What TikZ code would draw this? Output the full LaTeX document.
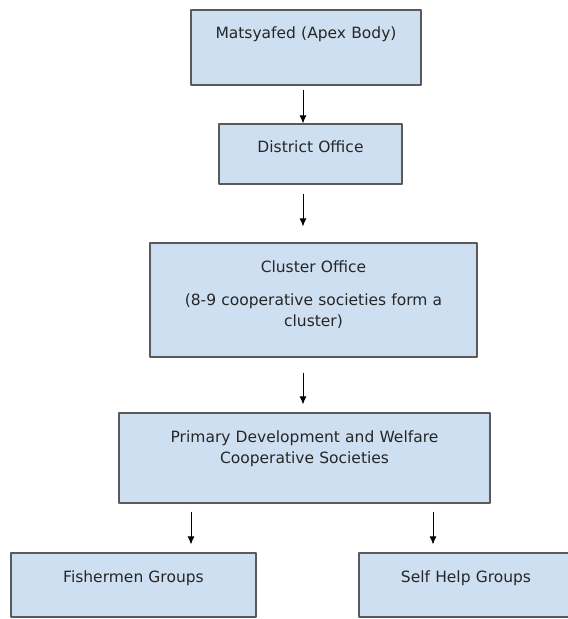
\documentclass[tikz,border=0pt]{standalone}
\usepackage{fontspec}
\setmainfont{DejaVu Sans}
\usetikzlibrary{arrows.meta}
\definecolor{boxfill}{HTML}{CEDFF2}
\definecolor{boxline}{HTML}{5A5A5A}
\definecolor{boxtext}{HTML}{262626}
\begin{document}
\begin{tikzpicture}[>={Latex[length=8bp,width=7bp]},line join=bevel,
  orgbox/.style={draw=boxline,fill=boxfill,line width=1.2bp,inner sep=0pt,
    align=center,text=boxtext,font=\fontsize{15.5bp}{21bp}\selectfont},
  link/.style={black,line width=0.9bp,->}]
%%
\useasboundingbox (0bp,0bp) rectangle (568bp,619bp);
\clip (0bp,0bp) rectangle (568bp,619bp);
\fill [white] (0bp,0bp) rectangle (568bp,619bp);
\coordinate (axis_mid) at (303bp,0bp);
\coordinate (axis_left) at (191bp,0bp);
\coordinate (axis_right) at (433bp,0bp);
\node (node_0) at (306.0bp,571.5bp) [orgbox,text width=230bp,text height=29bp,text depth=46bp] {Matsyafed (Apex Body)};
  \node (node_1) at (310.5bp,465.0bp) [orgbox,text width=183bp,text height=29bp,text depth=31bp] {District Office};
  \node (node_2) at (313.5bp,319.0bp) [orgbox,text width=327bp,text height=30bp,text depth=84bp] {Cluster Office\\[12bp] (8-9 cooperative societies form a\\ cluster)};
  \node (node_3) at (304.5bp,161.0bp) [orgbox,text width=371bp,text height=30bp,text depth=60bp] {Primary Development and Welfare\\ Cooperative Societies};
  \node (node_4) at (133.5bp,34.0bp) [orgbox,text width=245bp,text height=29bp,text depth=35bp] {Fishermen Groups};
  \node (node_5) at (466.0bp,34.0bp) [orgbox,text width=214bp,text height=29bp,text depth=35bp] {Self Help Groups};
  \draw [link,shorten <=4bp] (node_0.south -| axis_mid) -- (node_1.north -| axis_mid);
  \draw [link,shorten <=9bp,shorten >=16bp] (node_1.south -| axis_mid) -- (node_2.north -| axis_mid);
  \draw [link,shorten <=15bp,shorten >=8bp] (node_2.south -| axis_mid) -- (node_3.north -| axis_mid);
  \draw [link,shorten <=8bp,shorten >=8bp] (node_3.south -| axis_left) -- (node_4.north -| axis_left);
  \draw [link,shorten <=8bp,shorten >=8bp] (node_3.south -| axis_right) -- (node_5.north -| axis_right);
%
\end{tikzpicture}
\end{document}
